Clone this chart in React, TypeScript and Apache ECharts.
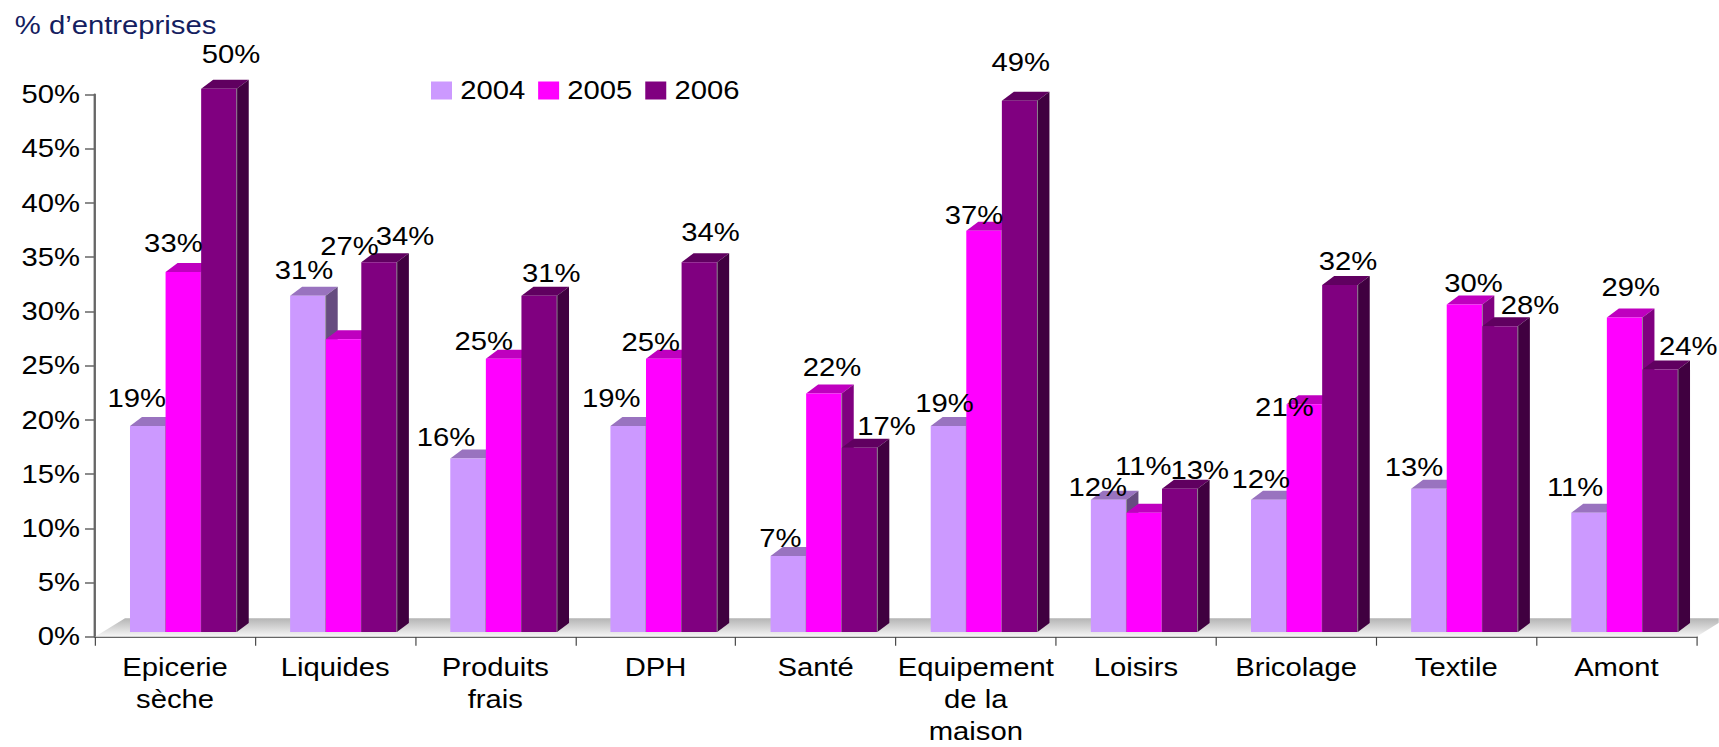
import React, { useEffect, useRef } from "react";
import * as echarts from "echarts";

const categories = ["Epicerie\nsèche", "Liquides", "Produits\nfrais", "DPH", "Santé", "Equipement\nde la\nmaison", "Loisirs", "Bricolage", "Textile", "Amont"];
const seriesNames = ["2004", "2005", "2006"];
const values2004 = [19, 31, 16, 19, 7, 19, 12.2, 12.2, 13.2, 11];
const values2005 = [33.2, 27, 25.2, 25.2, 22, 37, 11, 21, 30.2, 29];
const values2006 = [50.1, 34.1, 31, 34.1, 17, 49, 13.2, 32, 28.2, 24.2];
const yTicks = { min: 0, max: 50, interval: 5 };

// Hand placement of the data labels (pixels from the top centre of each bar's front face)
const nudge2004 = [[-11, -28], [-4, -26], [-22, -21], [-17, -28], [-8, -18], [-4, -23], [-11, -12], [-8, -20], [-15, -22], [-14, -25]];
const nudge2005 = [[-10, -29], [6, -93], [-20, -17], [-13, -16], [8, -26], [-10, -16], [-1, -46], [-20, 3], [9, -21], [6, -30]];
const nudge2006 = [[12, -34], [26, -26], [12, -23], [11, -30], [27, -21], [1, -38], [20, -19], [8, -24], [30, -21], [28, -23]];

const FONT = "'Liberation Sans', Arial, sans-serif";
const FS = 25;
// The reference's picture is stretched sideways; the chart is drawn narrower and widened to match.
const SX = 1.17;
const PAGE_W = 1719;
const PAGE_H = 747;
const faces = [
  { front: "#CC99FF", top: "#9973BF", side: "#664C80" },
  { front: "#FF00FF", top: "#BF00BF", side: "#800080" },
  { front: "#800080", top: "#600060", side: "#400040" },
];
const DEPTH_X = 12 / SX;
const DEPTH_Y = 9;
const LIFT = 4.7;
const GROUP_OFFSET = 0.2185;
const BAR_FRACTION = 0.2222;

function barSeries(idx: number, values: number[], nudges: number[][]) {
  const face = faces[idx];
  return {
    name: seriesNames[idx],
    type: "custom",
    itemStyle: { color: face.front },
    data: values.map((v, i) => [i, v]),
    encode: { x: 0, y: 1 },
    clip: false,
    renderItem: (_p: any, api: any) => {
      const cat = api.value(0);
      const val = api.value(1);
      const band = api.size([1, 0])[0];
      const w = band * BAR_FRACTION;
      const catLeft = api.coord([cat, 0])[0] - band / 2;
      const x = catLeft + band * GROUP_OFFSET + idx * w;
      const yBase = api.coord([cat, 0])[1] - LIFT;
      const yTop = api.coord([cat, val])[1] - LIFT;
      const [dx, dy] = nudges[cat];
      return {
        type: "group",
        children: [
          {
            type: "polygon",
            shape: { points: [[x, yTop], [x + DEPTH_X, yTop - DEPTH_Y], [x + w + DEPTH_X, yTop - DEPTH_Y], [x + w, yTop]] },
            style: { fill: face.top },
          },
          {
            type: "polygon",
            shape: { points: [[x + w, yTop], [x + w + DEPTH_X, yTop - DEPTH_Y], [x + w + DEPTH_X, yBase - DEPTH_Y], [x + w, yBase]] },
            style: { fill: face.side },
          },
          { type: "rect", shape: { x, y: yTop, width: w, height: yBase - yTop }, style: { fill: face.front } },
          {
            type: "line",
            shape: { x1: x + w, y1: yTop, x2: x + w, y2: yBase },
            style: { stroke: "#8a8a8a", lineWidth: 0.8 },
          },
          {
            type: "text",
            z2: 50,
            x: x + w / 2 + dx / SX,
            y: yTop + dy,
            style: { text: `${Math.round(val)}%`, fill: "#000", font: `${FS}px ${FONT}`, align: "center", verticalAlign: "middle" },
          },
        ],
      };
    },
  };
}

const floorSeries = {
  type: "custom",
  silent: true,
  data: [[0, 0]],
  encode: { x: 0, y: 1 },
  clip: false,
  z: 1,
  renderItem: (p: any) => {
    const g = p.coordSys;
    const yb = g.y + g.height;
    return {
      type: "polygon",
      shape: { points: [[g.x, yb], [g.x + 30 / SX, yb - 18.5], [g.x + g.width + 30 / SX, yb - 18.5], [g.x + g.width, yb]] },
      style: {
        fill: new echarts.graphic.LinearGradient(0, 0, 0, 1, [
          { offset: 0, color: "#b4b4b4" },
          { offset: 1, color: "#f6f6f6" },
        ]),
      },
    };
  },
};

export default function App() {
  const ref = useRef<HTMLDivElement>(null);
  useEffect(() => {
    document.body.style.margin = "0";
    const chart = echarts.init(ref.current!, undefined, { renderer: "svg" });
    chart.setOption({
      animation: false,
      backgroundColor: "#fff",
      textStyle: { fontFamily: FONT },
      title: {
        text: "% d’entreprises",
        left: 9 / SX,
        top: 8,
        textStyle: { color: "#14205f", fontSize: FS, fontWeight: "normal", fontFamily: FONT },
      },
      legend: {
        data: seriesNames,
        left: 431 / SX,
        top: 78,
        padding: 0,
        icon: "rect",
        itemWidth: 21 / SX,
        itemHeight: 18,
        itemGap: 11,
        textStyle: { color: "#000", fontSize: FS, fontFamily: FONT, padding: [0, 0, 0, 2] },
      },
      grid: { left: 95 / SX, top: 94.5, right: 22.3 / SX, bottom: 110.3, containLabel: false, outerBoundsMode: "none" },
      xAxis: {
        type: "category",
        data: categories,
        boundaryGap: true,
        axisLine: { lineStyle: { color: "#666", width: 2 } },
        axisTick: { show: true, interval: 0, alignWithLabel: false, length: 9, lineStyle: { color: "#444", width: 1 } },
        axisLabel: { interval: 0, color: "#000", fontSize: FS, fontFamily: FONT, lineHeight: 32, margin: 15 },
      },
      yAxis: {
        type: "value",
        min: yTicks.min,
        max: yTicks.max,
        interval: yTicks.interval,
        splitLine: { show: false },
        axisLine: { show: true, lineStyle: { color: "#666", width: 2 } },
        axisTick: { show: true, length: 10 / SX, lineStyle: { color: "#666", width: 1.5 } },
        axisLabel: { color: "#000", fontSize: FS, fontFamily: FONT, margin: 15 / SX, padding: [6, 0, 0, 0], formatter: "{value}%" },
      },
      series: [
        floorSeries,
        barSeries(0, values2004, nudge2004),
        barSeries(1, values2005, nudge2005),
        barSeries(2, values2006, nudge2006),
      ],
    });
    return () => chart.dispose();
  }, []);
  return (
    <div style={{ width: PAGE_W, height: PAGE_H, overflow: "hidden" }}>
      <div
        ref={ref}
        style={{ width: PAGE_W / SX, height: PAGE_H, transform: `scaleX(${SX})`, transformOrigin: "0 0" }}
      />
    </div>
  );
}
